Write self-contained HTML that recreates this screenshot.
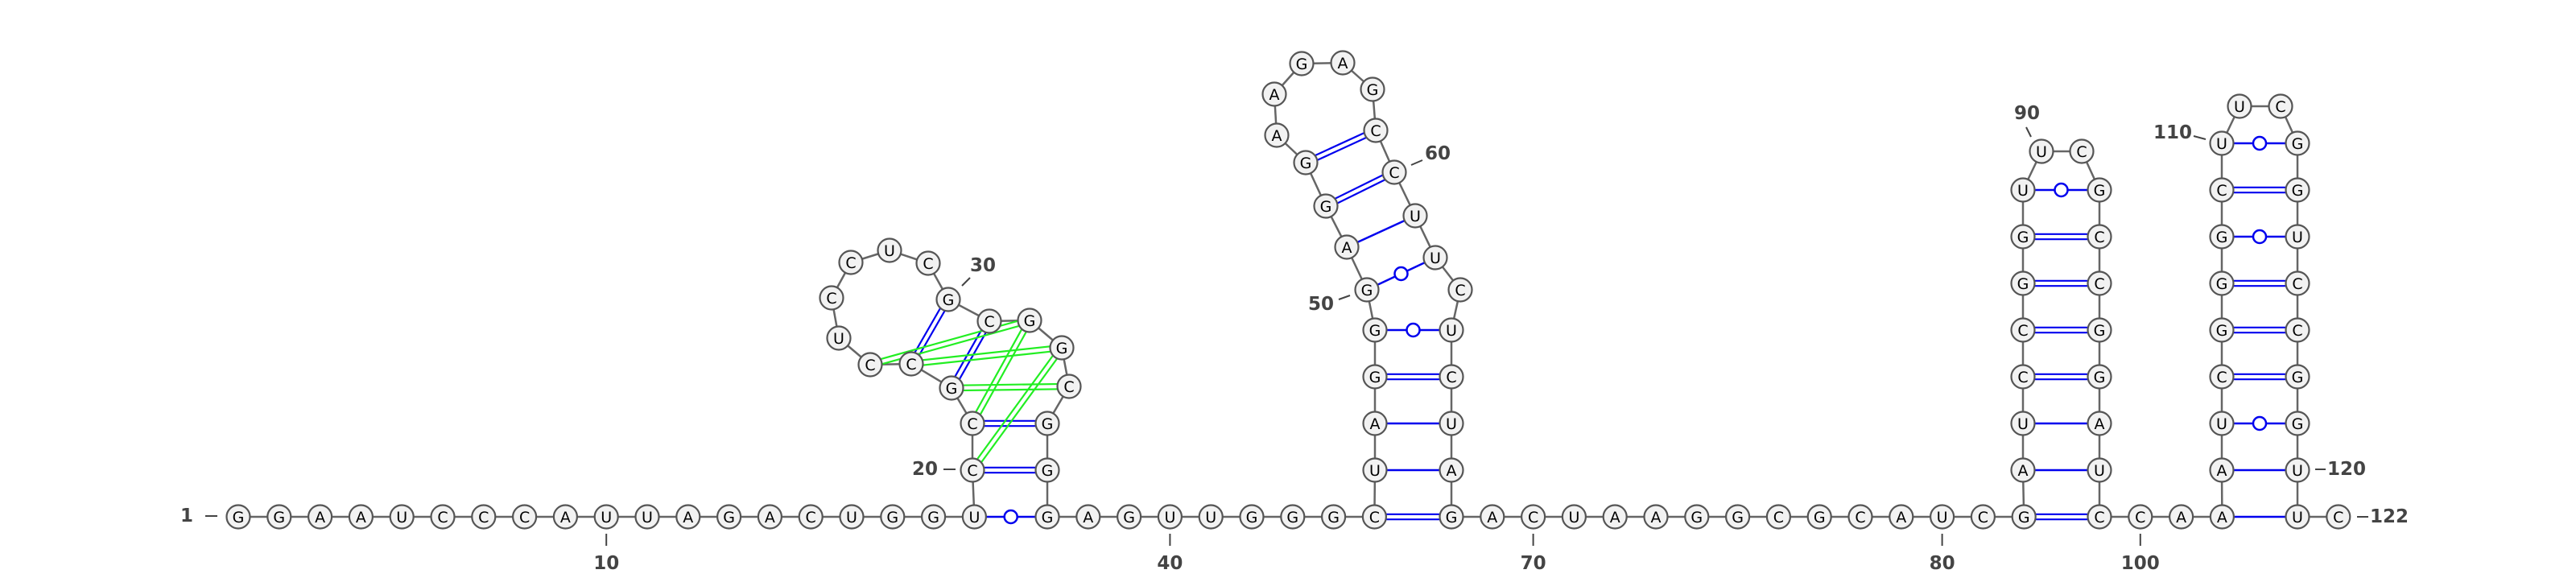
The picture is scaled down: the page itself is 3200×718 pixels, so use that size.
<!DOCTYPE html>
<html><head><meta charset="utf-8">
<style>
html,body{margin:0;padding:0;background:#fff;}
svg{display:block;}
.nt{font-family:"DejaVu Sans","Liberation Sans",sans-serif;font-size:19px;fill:#000;text-anchor:middle;dominant-baseline:central;}
.lbl{font-family:"DejaVu Sans","Liberation Sans",sans-serif;font-size:23px;font-weight:bold;fill:#444;dominant-baseline:central;}
</style></head>
<body>
<svg id="chart" width="3200" height="718" viewBox="0 0 3200 718" xmlns="http://www.w3.org/2000/svg">
<g id="bb"></g>
<g id="pr"></g>
<g id="nts"></g>
<g id="lb"></g>
</svg>
<script>
const sequenceParts = [
  "GGAAUCCCAUUAGACUGGU",      // 1-19
  "CCGCCUCCUCGCGGCGG",        // 20-36
  "GAGUUGGGC",                // 37-45
  "UAGGGAGGAAGAGCCUUCUCUAG",  // 46-68
  "ACUAAGGCGCAUCG",           // 69-82
  "AUCCGGUUCGCCGGAUC",        // 83-99
  "CAAAUCGGGCUUCGGUCCGGUUC"   // 100-122
];
const sequence = sequenceParts.join("");
const canonicalPairs = [[19,37],[20,36],[21,35],[22,31],[23,30],[45,68],[46,67],[47,66],[48,65],[49,64],[50,62],[51,61],[52,60],[53,59],
  [82,99],[83,98],[84,97],[85,96],[86,95],[87,94],[88,93],[89,92],
  [102,121],[103,120],[104,119],[105,118],[106,117],[107,116],[108,115],[109,114],[110,113]];
const tertiaryPairs = [[24,32],[23,33],[22,34],[21,32],[20,33]];
const labelPositions = [1,10,20,30,40,50,60,70,80,90,100,110,120,122];

const X0=296, STEP=50.8, YB=642, VS=58;
const P={};
function base(a,b,x0){for(let i=a;i<=b;i++)P[i]=[x0+(i-a)*STEP,YB];}
base(1,19,X0); base(37,45,1301); base(68,82,1803); base(99,102,2608); base(121,122,2854);
function stemL(a,b,x){for(let i=a;i<=b;i++)P[i]=[x,YB-(i-a+1)*VS];}
function stemR(a,b,x){for(let i=a;i<=b;i++)P[i]=[x,YB-(b-i+1)*VS];}
stemL(20,21,1208); stemR(35,36,1301);
stemL(46,49,1708); stemR(64,67,1803);
stemL(83,89,2513); stemR(92,98,2608);
stemL(103,110,2760); stemR(113,120,2854);
const loops={22:[1182,482],23:[1132,452],24:[1081,453],25:[1042,420],26:[1033,370],27:[1057,326],28:[1105,311],29:[1153,327],30:[1178,372],31:[1229,399],32:[1279,398],33:[1319,432],34:[1328,480],
50:[1698,360],51:[1673,307],52:[1647,256],53:[1622,202],54:[1586,168],55:[1583,117],56:[1617,79],57:[1668,78],58:[1705,111],59:[1709,162],60:[1732,214],61:[1758,268],62:[1783,320],63:[1814,360],
90:[2536,188],91:[2586,188],111:[2782,132],112:[2833,132]};
for(const k in loops)P[k]=loops[k];

const NS="http://www.w3.org/2000/svg";
function mk(tag,attrs,parent){const e=document.createElementNS(NS,tag);for(const k in attrs)e.setAttribute(k,attrs[k]);parent.appendChild(e);return e;}
const bb=document.getElementById('bb'),pr=document.getElementById('pr'),nts=document.getElementById('nts'),lb=document.getElementById('lb');

for(let i=1;i<sequence.length;i++){
  const a=P[i],b=P[i+1];
  const l=mk('line',{x1:a[0],y1:a[1],x2:b[0],y2:b[1],stroke:'#666','stroke-width':2.5},bb);
  
  
}
function dbl(a,b,color,g,name){
  const dx=b[0]-a[0],dy=b[1]-a[1],L=Math.hypot(dx,dy),nx=-dy/L*3.2,ny=dx/L*3.2;
  for(const s of [1,-1]){
    const l=mk('line',{x1:a[0]+nx*s,y1:a[1]+ny*s,x2:b[0]+nx*s,y2:b[1]+ny*s,stroke:color,'stroke-width':2.2},g);
    
    
  }
}
canonicalPairs.forEach(([i,j])=>{
  const a=P[i],b=P[j],t=sequence[i-1]+sequence[j-1];
  if(t==='GC'||t==='CG'){dbl(a,b,'#0000ee',pr,'gc-pair');}
  else{
    const l=mk('line',{x1:a[0],y1:a[1],x2:b[0],y2:b[1],stroke:'#0000ee','stroke-width':2.5},pr);
    
    
    if(t==='GU'||t==='UG'){
      const c=mk('circle',{cx:(a[0]+b[0])/2,cy:(a[1]+b[1])/2,r:8,fill:'#fff',stroke:'#0000ee','stroke-width':2.5},pr);
      
      
    }
  }
});
tertiaryPairs.forEach(([i,j])=>{dbl(P[i],P[j],'#22ee22',pr,'pseudoknot-pair');});
for(let i=1;i<=sequence.length;i++){
  const g=mk('g',{},nts);
  
  
  mk('circle',{cx:P[i][0],cy:P[i][1],r:14.5,fill:'#f2f2f2',stroke:'#555','stroke-width':2.2},g);
  const t=mk('text',{x:P[i][0],y:P[i][1]+1,class:'nt'},g);
  t.textContent=sequence[i-1];
}
const labelGeom={1:[255,641,270,641,240,641,'end'],20:[1172,583,1187,583,1165,583,'end'],30:[1195,355,1205,345,1205,330,'start'],
50:[1663,372,1677,367,1657,378,'end'],60:[1753,205,1767,199,1770,191,'start'],90:[2517,158,2523,170,2518,141,'middle'],
110:[2725,169,2740,173,2723,165,'end'],120:[2876,583,2889,583,2891,583,'start'],122:[2928,642,2942,642,2944,642,'start']};
labelPositions.forEach(n=>{
  let g=labelGeom[n];
  if(!g){const x=P[n][0];g=[x,663,x,678,x,700,'middle'];}
  const l=mk('line',{x1:g[0],y1:g[1],x2:g[2],y2:g[3],stroke:'#444','stroke-width':2},lb);
  
  
  const t=mk('text',{x:g[4],y:g[5],class:'lbl','text-anchor':g[6]},lb);
  
  
  t.textContent=String(n);
});
</script>
</body></html>
